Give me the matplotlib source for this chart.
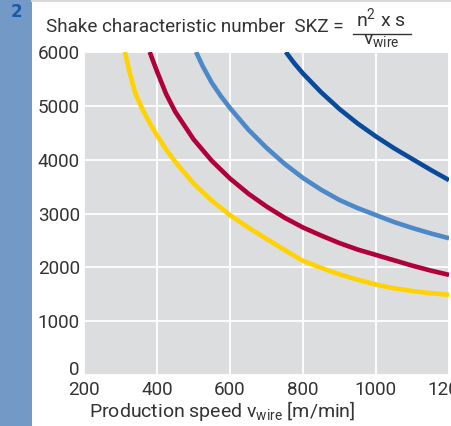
import matplotlib.pyplot as plt
import matplotlib.transforms as mtransforms
from matplotlib.patches import Rectangle
from matplotlib.lines import Line2D

# curves
yellow_x = [312, 325, 340, 360, 380, 400, 425, 450, 500, 550, 600, 650, 700, 750, 800,
            850, 900, 950, 1000, 1050, 1100, 1150, 1200]
yellow_y = [6000, 5620, 5240, 4940, 4680, 4450, 4190, 3960, 3560, 3240, 2970, 2740, 2530, 2320, 2120,
            1990, 1870, 1770, 1680, 1610, 1560, 1520, 1490]

red_x = [380, 400, 425, 450, 500, 550, 600, 650, 700, 750, 800, 850, 900, 950, 1000,
         1050, 1100, 1150, 1200]
red_y = [6000, 5640, 5220, 4890, 4380, 3980, 3650, 3370, 3130, 2920, 2740, 2590, 2450, 2330, 2230,
         2130, 2030, 1940, 1860]

lightblue_x = [507, 525, 550, 575, 600, 650, 700, 750, 800, 850, 900, 950, 1000, 1050, 1100, 1150, 1200]
lightblue_y = [6000, 5740, 5430, 5180, 4960, 4560, 4220, 3920, 3660, 3440, 3250, 3100, 2970, 2840, 2730, 2630, 2540]

darkblue_x = [753, 775, 800, 850, 900, 950, 1000, 1050, 1100, 1150, 1200]
darkblue_y = [6000, 5800, 5600, 5250, 4940, 4670, 4430, 4210, 4010, 3810, 3620]

xticks = [200, 400, 600, 800, 1000, 1200]
yticks = [0, 1000, 2000, 3000, 4000, 5000, 6000]

TXT = '#333333'
FS = 13.6
plt.rcParams['font.family'] = ['Roboto', 'DejaVu Sans']

fig = plt.figure(figsize=(4.51, 4.26), dpi=100)
W, H = 451, 426

# side band and chapter number
fig.patches.append(Rectangle((0, 0), 32 / W, 1, transform=fig.transFigure,
                             facecolor='#7399c6', edgecolor='none', zorder=0))
fig.add_artist(Line2D([32 / W, 1], [1 - 1 / H, 1 - 1 / H], color='#d8d8d8', lw=1.5))
fig.text(16 / W, 1 - 12 / H, '2', color='#1b5aa8', fontsize=12, fontweight='bold',
         family='DejaVu Sans', ha='center', va='center')

ax = fig.add_axes([84 / W, 1 - 375 / H, 365 / W, 323 / H])
ax.set_facecolor('#dcdddf')
for s in ax.spines.values():
    s.set_visible(False)
ax.grid(True, color='white', lw=1.3)
ax.set_axisbelow(True)

lw = 3.3
ax.plot(yellow_x, yellow_y, color='#ffd200', lw=lw, solid_capstyle='butt')
ax.plot(red_x, red_y, color='#b0003a', lw=lw, solid_capstyle='butt')
ax.plot(lightblue_x, lightblue_y, color='#4d88c8', lw=lw, solid_capstyle='butt')
ax.plot(darkblue_x, darkblue_y, color='#0a4a9a', lw=lw, solid_capstyle='butt')

ax.set_xlim(200, 1200)
ax.set_ylim(0, 6000)
ax.set_xticks(xticks)
ax.set_yticks(yticks)
ax.tick_params(length=0, labelsize=FS, labelcolor=TXT)
ax.tick_params(axis='y', pad=3)
ax.tick_params(axis='x', pad=4)

# the "0" label sits a little higher than the others
lab0 = ax.get_yticklabels()[0]
lab0.set_transform(lab0.get_transform() +
                   mtransforms.ScaledTranslation(0, 5 / 72, fig.dpi_scale_trans))

fig.text(89 / W, 1 - 417 / H, r'Production speed v$_\mathregular{wire}$ [m/min]',
         fontsize=14, color=TXT, ha='left', va='baseline')

# title with fraction
fig.text(46 / W, 1 - 32 / H, 'Shake characteristic number  SKZ =', fontsize=13.6,
         color=TXT, ha='left', va='baseline')
fig.text(381 / W, 1 - 27 / H, r'n$^\mathregular{2}$ x s', fontsize=14,
         color=TXT, ha='center', va='baseline')
fig.add_artist(Line2D([353 / W, 411 / W], [1 - 34 / H, 1 - 34 / H], color=TXT, lw=1))
fig.text(381 / W, 1 - 45 / H, r'v$_\mathregular{wire}$', fontsize=14,
         color=TXT, ha='center', va='baseline')

fig.savefig('out.png', dpi=100)
